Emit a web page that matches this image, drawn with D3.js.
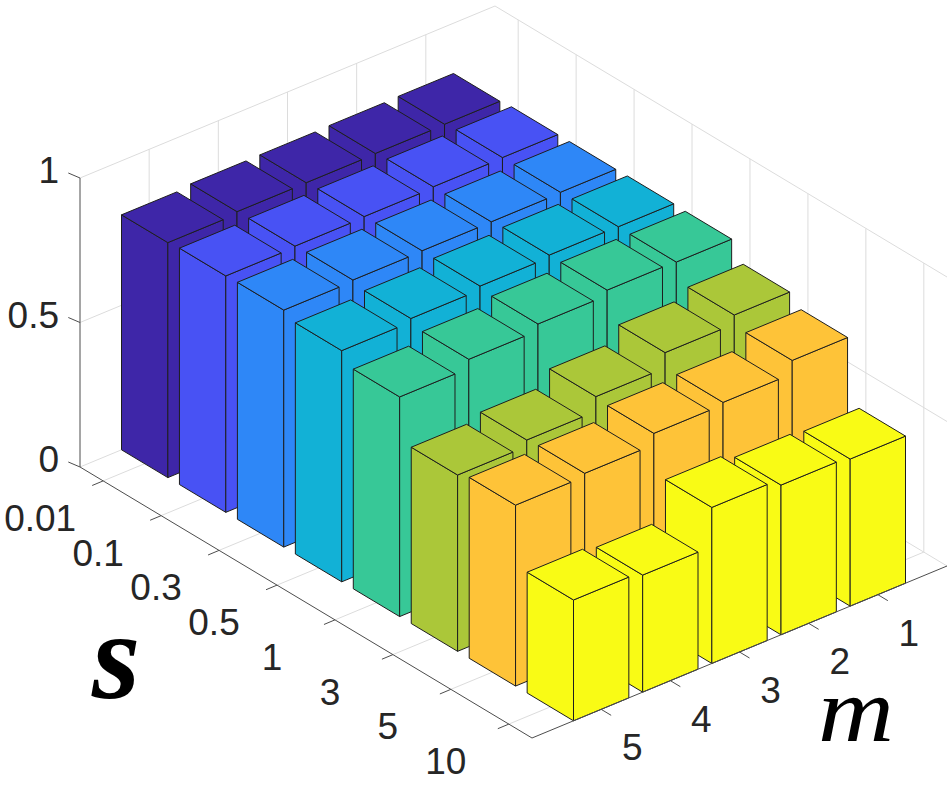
<!DOCTYPE html>
<html>
<head>
<meta charset="utf-8">
<script src="https://cdn.jsdelivr.net/npm/d3@7"></script>
<style>
  body { margin: 0; background: #fff; }
  svg { display: block; }
</style>
</head>
<body>
<div id="chart"></div>
<script>
// categories
const sLabels = ["0.01", "0.1", "0.3", "0.5", "1", "3", "5", "10"];
const mLabels = ["1", "2", "3", "4", "5"];
const zTicks = [0, 0.5, 1];

// bar heights, one row per s, columns m = 1..5
const heights = [
  [0.826, 0.824, 0.822, 0.821, 0.813],
  [0.831, 0.829, 0.825, 0.822, 0.818],
  [0.831, 0.828, 0.827, 0.825, 0.820],
  [0.832, 0.833, 0.825, 0.812, 0.800],
  [0.830, 0.832, 0.814, 0.791, 0.760],
  [0.767, 0.736, 0.683, 0.632, 0.610],
  [0.730, 0.684, 0.676, 0.637, 0.626],
  [0.509, 0.518, 0.540, 0.405, 0.418]
];

// parula(8)
const colors = ["#3e26a8", "#4852f4", "#2e87f7", "#12b1d6", "#37c897", "#abc739", "#fec338", "#f9fb15"];

var width = 950, height = 786;

const svg = d3.select("#chart").append("svg")
  .attr("width", width)
  .attr("height", height);

// orthographic projection, origin at the back corner of the floor
const origin = [495, 295];
const sx = d3.scaleLinear().domain([0.6, 8.4]).range([0, 452]),
  sy = d3.scaleLinear().domain([0.6, 8.4]).range([0, 271]),
  mx = d3.scaleLinear().domain([0, 6]).range([0, -415]),
  my = d3.scaleLinear().domain([0, 6]).range([0, 172]),
  zs = d3.scaleLinear().domain([0, 1]).range([0, 289]);

const proj = (s, m, z) => [origin[0] + sx(s) + mx(m), origin[1] + sy(s) + my(m) - zs(z)];
const line = d3.line();

const S0 = 0.6, S1 = 8.4, M0 = 0, M1 = 6, Z1 = 1;

// grid on the back walls and floor
const grid = svg.append("g")
  .attr("fill", "none")
  .attr("stroke", "#dcdcdc")
  .attr("stroke-width", 1);

const gridLines = [];
mLabels.forEach((d, i) => {
  gridLines.push([proj(S0, i + 1, 0), proj(S0, i + 1, Z1)]);
  gridLines.push([proj(S0, i + 1, 0), proj(S1, i + 1, 0)]);
});
sLabels.forEach((d, i) => {
  gridLines.push([proj(i + 1, M0, 0), proj(i + 1, M0, Z1)]);
  gridLines.push([proj(i + 1, M0, 0), proj(i + 1, M1, 0)]);
});
zTicks.forEach(z => {
  gridLines.push([proj(S0, M1, z), proj(S0, M0, z), proj(S1, M0, z)]);
});

grid.selectAll("path")
  .data(gridLines)
  .enter().append("path")
  .attr("d", d => line(d));

// bars, back to front
const bars = [];
heights.forEach((row, si) => {
  row.forEach((h, mi) => {
    bars.push({s: si + 1, m: mi + 1, h: h, color: colors[si]});
  });
});
bars.sort((a, b) => a.s - b.s || a.m - b.m);

const w = 0.4;
const faces = b => {
  const s = b.s, m = b.m, h = b.h;
  return [
    // face toward +m
    [proj(s - w, m + w, 0), proj(s + w, m + w, 0), proj(s + w, m + w, h), proj(s - w, m + w, h)],
    // face toward +s
    [proj(s + w, m + w, 0), proj(s + w, m - w, 0), proj(s + w, m - w, h), proj(s + w, m + w, h)],
    // top
    [proj(s - w, m - w, h), proj(s + w, m - w, h), proj(s + w, m + w, h), proj(s - w, m + w, h)]
  ];
};

const barG = svg.append("g")
  .attr("stroke", "#1e1e1e")
  .attr("stroke-width", 1)
  .attr("stroke-linejoin", "round");

bars.forEach(b => {
  barG.append("g")
    .attr("fill", b.color)
    .selectAll("path")
    .data(faces(b))
    .enter().append("path")
    .attr("d", d => line(d) + "Z");
});

// axes
const axis = svg.append("g")
  .attr("fill", "none")
  .attr("stroke", "#4d4d4d")
  .attr("stroke-width", 1);

axis.append("path").attr("d", line([proj(S0, M1, 0), proj(S0, M1, Z1)]));
axis.append("path").attr("d", line([proj(S0, M1, 0), proj(S1, M1, 0)]));
axis.append("path").attr("d", line([proj(S1, M1, 0), proj(S1, M0, 0)]));

const txt = svg.append("g")
  .attr("font-family", "'Liberation Sans', Arial, Helvetica, sans-serif")
  .attr("font-size", 37)
  .attr("fill", "#262626");

zTicks.forEach(z => {
  const p = proj(S0, M1, z);
  axis.append("path").attr("d", line([p, [p[0] - 11.7, p[1] - 5]]));
  txt.append("text")
    .attr("x", p[0] - 21)
    .attr("y", p[1] + 5)
    .attr("text-anchor", "end")
    .text(d3.format("")(z));
});

sLabels.forEach((lab, i) => {
  const p = proj(i + 1, M1, 0);
  axis.append("path").attr("d", line([p, [p[0] - 11, p[1] + 4.6]]));
  txt.append("text")
    .attr("x", p[0] - 63)
    .attr("y", p[1] + 50)
    .attr("text-anchor", "middle")
    .text(lab);
});

mLabels.forEach((lab, i) => {
  const p = proj(S1, i + 1, 0);
  axis.append("path").attr("d", line([p, [p[0] + 10, p[1] + 6]]));
  txt.append("text")
    .attr("x", p[0] + 31)
    .attr("y", p[1] + 51)
    .attr("text-anchor", "middle")
    .text(lab);
});

// axis titles
svg.append("text")
  .attr("x", 92)
  .attr("y", 698)
  .attr("font-family", "'Liberation Serif', 'Times New Roman', serif")
  .attr("font-style", "italic")
  .attr("font-weight", "bold")
  .attr("font-size", 124)
  .attr("fill", "#000")
  .text("s");

svg.append("text")
  .attr("x", 818)
  .attr("y", 741)
  .attr("font-family", "'Liberation Serif', 'Times New Roman', serif")
  .attr("font-style", "italic")
  .attr("font-size", 92)
  .attr("textLength", 76)
  .attr("lengthAdjust", "spacingAndGlyphs")
  .attr("fill", "#000")
  .text("m");
</script>
</body>
</html>
